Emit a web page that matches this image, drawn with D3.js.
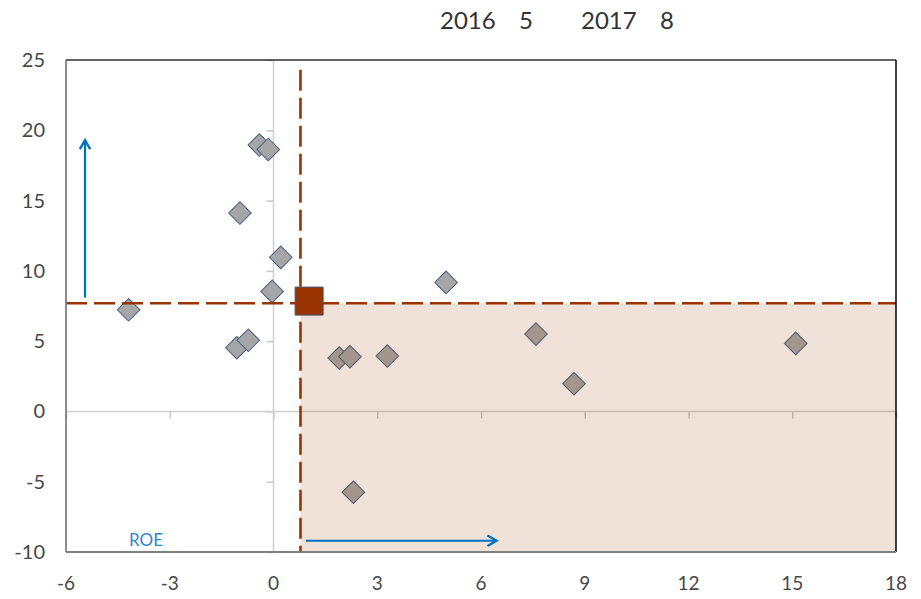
<!DOCTYPE html>
<html><head><meta charset="utf-8">
<script src="https://cdn.jsdelivr.net/npm/d3@7"></script>
<style>body{margin:0;background:#fff}svg{display:block}</style>
</head><body>
<svg id="c" width="921" height="599"></svg>
<script>
const titleParts = ["2016", "5", "2017", "8"];
const xTicks = [-6, -3, 0, 3, 6, 9, 12, 15, 18];
const yTicks = [-10, -5, 0, 5, 10, 15, 20, 25];
const pointsX = [-0.41, -0.15, -0.97, 0.21, -0.04, -4.19, -1.06, -0.73, 4.99, 1.90, 2.21, 3.29, 7.59, 8.69, 2.31, 15.10];
const pointsY = [18.95, 18.64, 14.11, 10.96, 8.54, 7.23, 4.53, 5.06, 9.18, 3.80, 3.89, 3.94, 5.50, 1.97, -5.75, 4.84];
const avgPoint = [1.03, 7.85];
const refX = 0.78, refY = 7.7, refXTop = 24.3;
const arrowUp = [[-5.45, 8.1], [-5.45, 19.3]];
const arrowRight = [[0.94, -9.2], [6.45, -9.2]];
const roeLabel = "ROE";

const svg = d3.select("#c");
const L = 66, R = 896, T = 60, B = 552;
const x = d3.scaleLinear().domain([-6, 18]).range([L, R]);
const y = d3.scaleLinear().domain([-10, 25]).range([B, T]);
const font = "Lato, 'Noto Sans', sans-serif";

svg.append("defs").append("marker").attr("id", "ah").attr("viewBox", "0 0 10 10")
  .attr("refX", 8).attr("refY", 5)
  .attr("markerUnits", "userSpaceOnUse").attr("orient", "auto")
  .attr("markerWidth", 13).attr("markerHeight", 13)
  .append("path").attr("d", "M1,1 L8,5 L1,9").attr("fill", "none").attr("stroke", "#0070c0").attr("stroke-width", 1.8);

// zero lines
svg.append("line").attr("x1", x(0)).attr("x2", x(0)).attr("y1", T).attr("y2", B).attr("stroke", "#d0d0d0").attr("stroke-width", 1.5);
svg.append("line").attr("x1", L).attr("x2", R).attr("y1", y(0)).attr("y2", y(0)).attr("stroke", "#d0d0d0").attr("stroke-width", 1.5);
svg.append("g").attr("transform", `translate(${x(0)},0)`)
  .call(d3.axisLeft(y).tickValues(yTicks).tickSize(7).tickFormat(""))
  .call(g => { g.select(".domain").remove(); g.selectAll("line").attr("stroke", "#c8c8c8").attr("stroke-width", 1.5); });
svg.append("g").attr("transform", `translate(0,${y(0)})`)
  .call(d3.axisBottom(x).tickValues(xTicks).tickSize(7).tickFormat(""))
  .call(g => { g.select(".domain").remove(); g.selectAll("line").attr("stroke", "#c8c8c8").attr("stroke-width", 1.5); });

// points
const pts = pointsX.map((v, i) => [v, pointsY[i]]);
svg.append("g").selectAll("path").data(pts).join("path")
  .attr("d", d3.symbol(d3.symbolSquare, 256)())
  .attr("transform", d => `translate(${x(d[0])},${y(d[1])}) rotate(45)`)
  .attr("fill", "#a6a6a6").attr("stroke", "#4a5f80").attr("stroke-width", 1);

// shaded region
svg.append("rect").attr("x", x(refX)).attr("y", y(refY)).attr("width", x(18) - x(refX)).attr("height", y(-10) - y(refY))
  .attr("fill", "#993300").attr("fill-opacity", 0.15);

// dashed reference lines
svg.append("line").attr("x1", x(-6)).attr("x2", x(18)).attr("y1", y(refY)).attr("y2", y(refY))
  .attr("stroke", "#993300").attr("stroke-width", 2.6).attr("stroke-dasharray", "21,7");
svg.append("line").attr("x1", x(refX)).attr("x2", x(refX)).attr("y1", y(refXTop)).attr("y2", y(-10))
  .attr("stroke", "#993300").attr("stroke-width", 2.6).attr("stroke-dasharray", "21,7");

// average square
svg.append("path").attr("d", d3.symbol(d3.symbolSquare, 784)())
  .attr("transform", `translate(${x(avgPoint[0])},${y(avgPoint[1])})`)
  .attr("fill", "#993300").attr("stroke", "#44546a").attr("stroke-width", 1);

// frame
svg.append("line").attr("x1", L).attr("x2", R).attr("y1", T).attr("y2", T).attr("stroke", "#303030").attr("stroke-width", 1.3);
svg.append("line").attr("x1", R).attr("x2", R).attr("y1", T).attr("y2", B).attr("stroke", "#000").attr("stroke-width", 1.5);
svg.append("line").attr("x1", L).attr("x2", L).attr("y1", T).attr("y2", B).attr("stroke", "#7f7f7f").attr("stroke-width", 1.8);
svg.append("line").attr("x1", L).attr("x2", R).attr("y1", B).attr("y2", B).attr("stroke", "#7f7f7f").attr("stroke-width", 1.8);

// arrows
const ln = d3.line().x(d => x(d[0])).y(d => y(d[1]));
[arrowUp, arrowRight].forEach(a => svg.append("path").attr("d", ln(a)).attr("stroke", "#0070c0").attr("stroke-width", 2.2)
  .attr("fill", "none").attr("marker-end", "url(#ah)"));

// tick labels
svg.append("g").selectAll("text").data(yTicks).join("text")
  .attr("x", 45).attr("y", d => y(d)).attr("dy", "0.35em").attr("text-anchor", "end")
  .attr("font-family", font).attr("font-size", 20).attr("fill", "#474747").text(d => d);
svg.append("g").selectAll("text").data(xTicks).join("text")
  .attr("x", d => x(d)).attr("y", 590).attr("text-anchor", "middle")
  .attr("font-family", font).attr("font-size", 19).attr("fill", "#474747").text(d => d);

svg.append("text").attr("x", 146).attr("y", 546).attr("text-anchor", "middle")
  .attr("font-family", font).attr("font-size", 17).attr("fill", "#2f86d0").text(roeLabel);

const titleX = [440, 519, 581, 660];
const title = svg.append("text").attr("y", 29).attr("font-family", font).attr("font-size", 24).attr("fill", "#333");
title.selectAll("tspan").data(titleParts).join("tspan").attr("x", (d, i) => titleX[i]).text(d => d);
</script>
</body></html>
